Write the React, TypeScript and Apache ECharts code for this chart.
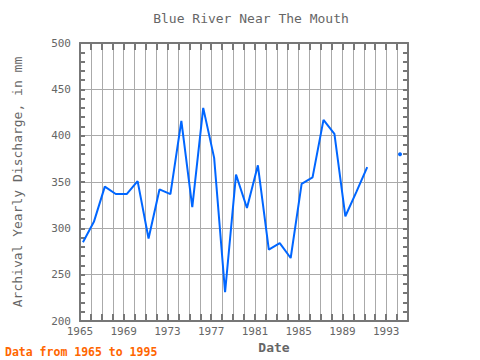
import React, { useEffect, useRef } from "react";
import * as echarts from "echarts";

const years = [1965, 1966, 1967, 1968, 1969, 1970, 1971, 1972, 1973, 1974, 1975, 1976, 1977, 1978, 1979, 1980, 1981, 1982, 1983, 1984, 1985, 1986, 1987, 1988, 1989, 1990, 1991, 1992, 1993, 1994];
const discharge: (number | null)[] = [285, 307, 345, 337, 337, 351, 289, 342, 337, 416, 323, 430, 376, 231, 358, 322, 368, 277, 284, 268, 348, 355, 417, 402, 313, 339, 366, null, null, 380];
const yearOffset = 0.27;

const FONT = "DejaVu Sans Mono";
const AXIS = "#777777";
const GRID = "#aaaaaa";
const TEXT = "#666666";

export default function App() {
  const ref = useRef<HTMLDivElement>(null);
  useEffect(() => {
    if (!ref.current) return;
    const chart = echarts.init(ref.current, null, { renderer: "svg" });
    const data = years.map((y, i) => {
      const v = discharge[i];
      const prev = i > 0 ? discharge[i - 1] : null;
      const next = i < discharge.length - 1 ? discharge[i + 1] : null;
      const isolated = v != null && prev == null && next == null;
      if (isolated) return { value: [y + yearOffset, v], symbol: "circle", symbolSize: 4 };
      return { value: [y + yearOffset, v], symbol: "none" };
    });
    const xCommon = {
      type: "value",
      min: 1965,
      max: 1995,
      interval: 1,
      axisLine: { show: true, lineStyle: { color: AXIS, width: 2 } },
      axisTick: { show: true, inside: true, length: 7, lineStyle: { color: AXIS, width: 2 } },
      splitLine: { show: true, lineStyle: { color: GRID, width: 1 } },
    };
    const yCommon = {
      type: "value",
      min: 200,
      max: 500,
      interval: 50,
      axisLine: { show: true, lineStyle: { color: AXIS, width: 2 } },
      axisTick: { show: true, inside: true, length: 5, lineStyle: { color: AXIS, width: 2 } },
      minorTick: { show: true, splitNumber: 5, length: 5, lineStyle: { color: AXIS, width: 2 } },
      splitLine: { show: true, lineStyle: { color: GRID, width: 1 } },
    };
    chart.setOption({
      animation: false,
      grid: { left: 80, top: 43, width: 328, height: 278, containLabel: false },
      xAxis: [
        {
          ...xCommon,
          position: "bottom",
          axisLabel: {
            show: true,
            margin: 5,
            color: TEXT,
            fontFamily: FONT,
            fontSize: 11,
            showMaxLabel: false,
            formatter: (v: number) => ((v - 1965) % 4 === 0 ? String(v) : ""),
          },
        },
        { ...xCommon, position: "top", axisLabel: { show: false } },
      ],
      yAxis: [
        {
          ...yCommon,
          position: "left",
          axisLabel: { show: true, margin: 9, color: TEXT, fontFamily: FONT, fontSize: 11 },
        },
        { ...yCommon, position: "right", axisLabel: { show: false } },
      ],
      series: [
        {
          type: "line",
          xAxisIndex: 0,
          yAxisIndex: 0,
          data,
          connectNulls: false,
          showAllSymbol: true,
          lineStyle: { color: "#0066ff", width: 2 },
          itemStyle: { color: "#0066ff" },
        },
      ],
      graphic: [
        {
          type: "text",
          x: 251,
          y: 18,
          style: { text: "Blue River Near The Mouth", font: `13px '${FONT}'`, fill: TEXT, textAlign: "center", textVerticalAlign: "middle" },
        },
        {
          type: "text",
          x: 274,
          y: 347,
          style: { text: "Date", font: `bold 13px '${FONT}'`, fill: TEXT, textAlign: "center", textVerticalAlign: "middle" },
        },
        {
          type: "text",
          x: 17,
          y: 182,
          rotation: Math.PI / 2,
          style: { text: "Archival Yearly Discharge, in mm", font: `13px '${FONT}'`, fill: TEXT, textAlign: "center", textVerticalAlign: "middle" },
        },
        {
          type: "text",
          x: 5,
          y: 352,
          style: { text: "Data from 1965 to 1995", font: `bold 11.5px '${FONT}'`, fill: "#ff6600", textAlign: "left", textVerticalAlign: "middle" },
        },
      ],
    });
    return () => chart.dispose();
  }, []);
  return <div ref={ref} style={{ width: 480, height: 360, position: "absolute", left: 0, top: 0 }} />;
}
